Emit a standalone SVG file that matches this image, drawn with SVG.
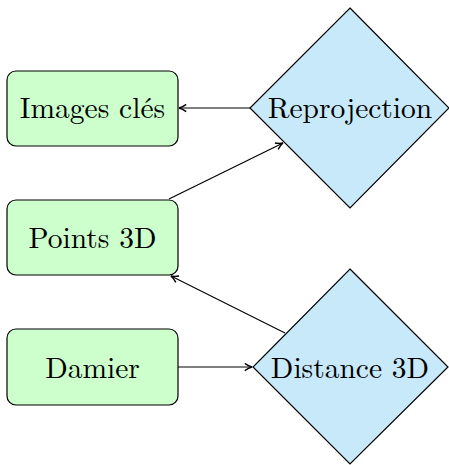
<svg xmlns="http://www.w3.org/2000/svg" width="449" height="465" viewBox="0 0 449 465">
<defs>
<style>
.box{fill:#ccffcc;stroke:#000;stroke-width:1.2}
.dia{fill:#c7e9f9;stroke:#000;stroke-width:1.2}
.lbl{font-family:"Latin Modern Roman","Liberation Serif","DejaVu Serif",serif;font-size:29.5px;fill:#000;text-anchor:middle;dominant-baseline:central}
.edge{stroke:#000;stroke-width:1.2;fill:none;marker-end:url(#ah)}
</style>
<marker id="ah" viewBox="0 0 10 10" refX="9" refY="5" markerWidth="9" markerHeight="9" markerUnits="userSpaceOnUse" orient="auto">
<path d="M1,1 Q5,4 9,5 Q5,6 1,9" fill="none" stroke="#000" stroke-width="1.6"/>
</marker>
</defs>
<g id="images">
<rect class="box" x="7" y="71" width="171" height="75" rx="9"/>
<text class="lbl" x="92.5" y="106">Images clés</text>
</g>
<g id="points">
<rect class="box" x="7" y="200" width="171" height="75" rx="9"/>
<text class="lbl" x="92.5" y="236">Points 3D</text>
</g>
<g id="damier">
<rect class="box" x="7" y="329" width="171" height="76" rx="9"/>
<text class="lbl" x="92.5" y="366">Damier</text>
</g>
<g id="reprojection">
<polygon class="dia" points="350,8 449,108 350,208 250,108"/>
<text class="lbl" x="350" y="106">Reprojection</text>
</g>
<g id="distance">
<polygon class="dia" points="350,269 448,367 350,464 253,367"/>
<text class="lbl" x="350" y="366">Distance 3D</text>
</g>
<g id="connectors">
<line class="edge" x1="250" y1="108" x2="179" y2="108"/>
<line class="edge" x1="169" y1="199" x2="283" y2="143"/>
<line class="edge" x1="285" y1="333" x2="171" y2="276"/>
<line class="edge" x1="178" y1="367" x2="252" y2="367"/>
</g>
</svg>
